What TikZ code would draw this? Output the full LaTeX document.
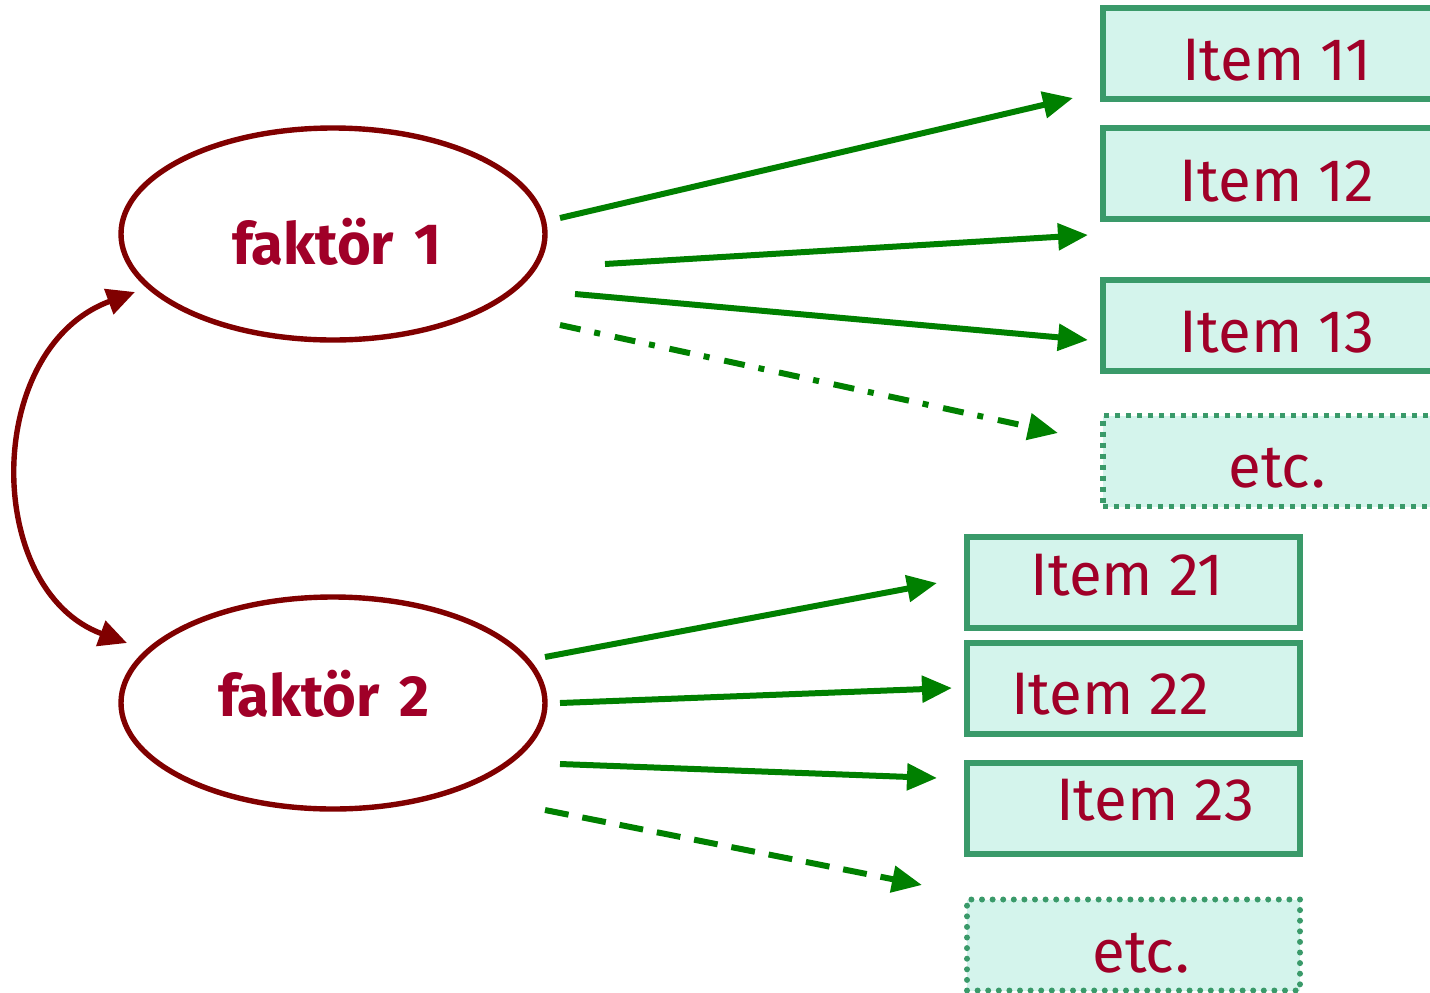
\documentclass[tikz,border=0pt]{standalone}
\usepackage{fontspec}
\setmainfont{Fira Sans}
\usetikzlibrary{arrows.meta,shapes.geometric}
\definecolor{txtred}{RGB}{160,0,40}
\definecolor{ovalred}{RGB}{128,0,0}
\definecolor{arrgreen}{RGB}{0,128,0}
\definecolor{boxgreen}{RGB}{58,154,106}
\definecolor{boxfill}{RGB}{212,244,236}
\tikzset{
  factor/.style={ellipse, draw=ovalred, line width=2.7pt, minimum width=212pt, minimum height=106pt, inner sep=0pt},
  factortext/.style={text=txtred, font=\fontsize{29}{32}\selectfont\bfseries, inner sep=0pt},
  itembox/.style={rectangle, draw=boxgreen, fill=boxfill, line width=2.8pt, minimum height=45.5pt, inner sep=0pt},
  etcsquare/.style={itembox, line width=2.8pt, dash pattern=on 2.5pt off 3pt},
  etcround/.style={itembox, line width=3pt, line cap=round, dash pattern=on 0pt off 5.3pt},
  itemtext/.style={text=txtred, font=\fontsize{30}{33}\selectfont, inner sep=0pt},
  load/.style={draw=arrgreen, line width=3pt, -{Triangle[length=15pt,width=13pt]}},
  loaddashdot/.style={load, dash pattern=on 10.5pt off 7pt on 3pt off 7.5pt},
  loaddashed/.style={load, dash pattern=on 12pt off 7pt},
  corr/.style={draw=ovalred, line width=2.7pt, {Triangle[length=14pt,width=13pt]}-{Triangle[length=14pt,width=13pt]}}
}
\begin{document}
\begin{tikzpicture}[x=0.5pt,y=-0.5pt]
\useasboundingbox (0,0) rectangle (1430,992);
\clip (0,0) rectangle (1430,992);

% latent factors
\node[factor] (f1) at (333,234) {};
\node[factortext] (f1t) at (337,242) {faktör\hspace{0.35em}1};
\node[factor] (f2) at (333,703) {};
\node[factortext] (f2t) at (324,694) {faktör\hspace{0.35em}2};

% indicators of factor 1
\node[itembox, minimum width=168.5pt] (i11) at (1271.5,53.5) {};
\node[itemtext] (i11t) at (1277,60) {Item 11};
\node[itembox, minimum width=168.5pt] (i12) at (1271.5,173.5) {};
\node[itemtext] (i12t) at (1277,181) {Item 12};
\node[itembox, minimum width=168.5pt] (i13) at (1271.5,325.5) {};
\node[itemtext] (i13t) at (1277,332) {Item 13};
\node[etcsquare, minimum width=168.5pt] (e1) at (1271.5,461) {};
\node[itemtext] (e1t) at (1277,468) {etc.};

% indicators of factor 2
\node[itembox, minimum width=166.5pt] (i21) at (1133.5,582.5) {};
\node[itemtext] (i21t) at (1127,575) {Item 21};
\node[itembox, minimum width=166.5pt] (i22) at (1133.5,688.5) {};
\node[itemtext] (i22t) at (1110,694) {Item 22};
\node[itembox, minimum width=166.5pt] (i23) at (1133.5,808.5) {};
\node[itemtext] (i23t) at (1155,800) {Item 23};
\node[etcround, minimum width=166.5pt] (e2) at (1133.5,945) {};
\node[itemtext] (e2t) at (1141,953) {etc.};

% arrow end points
\coordinate (a1s) at (560,218);  \coordinate (a1e) at (1073,98);
\coordinate (a2s) at (605,264);  \coordinate (a2e) at (1088,235);
\coordinate (a3s) at (575,294);  \coordinate (a3e) at (1088,340);
\coordinate (a4s) at (560,325);  \coordinate (a4e) at (1058,433);
\coordinate (b1s) at (545,657);  \coordinate (b1e) at (937,583);
\coordinate (b2s) at (560,703);  \coordinate (b2e) at (952,688);
\coordinate (b3s) at (560,764);  \coordinate (b3e) at (937,778);
\coordinate (b4s) at (545,810);  \coordinate (b4e) at (922,885);
\coordinate (cs) at (135,292);   \coordinate (ce) at (127,643);

% loadings
\draw[load] (a1s) -- (a1e);
\draw[load] (a2s) -- (a2e);
\draw[load] (a3s) -- (a3e);
\draw[loaddashdot] (a4s) -- (a4e);
\draw[load] (b1s) -- (b1e);
\draw[load] (b2s) -- (b2e);
\draw[load] (b3s) -- (b3e);
\draw[loaddashed] (b4s) -- (b4e);

% factor correlation
\draw[corr] (cs) .. controls (-17,348) and (-17,590) .. (ce);
\end{tikzpicture}
\end{document}
